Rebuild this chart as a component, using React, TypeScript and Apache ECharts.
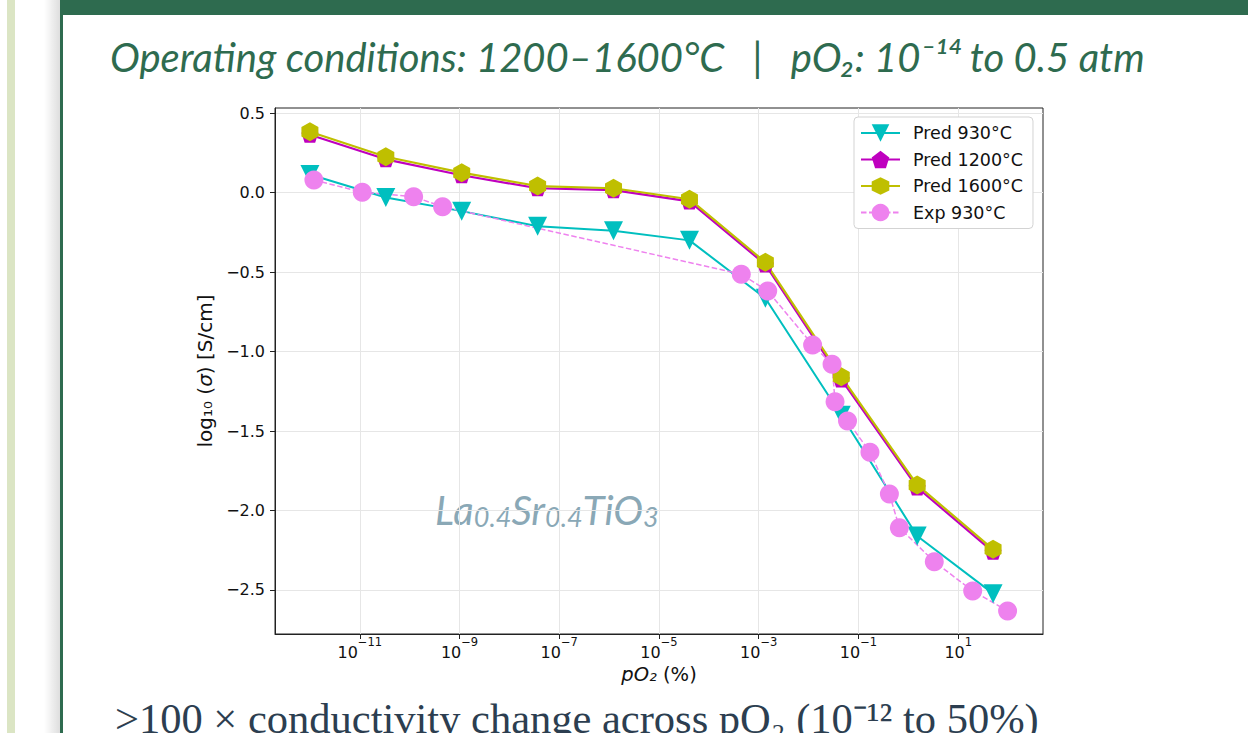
import React, { useEffect, useRef } from 'react';
import * as echarts from 'echarts';

// log10 of pO2 (%) for the predicted series
const predLogPO2 = [-12, -10.478, -8.956, -7.434, -5.912, -4.389, -2.867, -1.345, 0.177, 1.699];
const pred930 = [0.115, -0.03, -0.116, -0.211, -0.239, -0.3, -0.664, -1.4, -2.16, -2.523];
const pred1200 = [0.365, 0.21, 0.11, 0.028, 0.016, -0.055, -0.452, -1.175, -1.855, -2.26];
const pred1600 = [0.384, 0.226, 0.126, 0.042, 0.028, -0.041, -0.438, -1.158, -1.839, -2.244];
// log10 of pO2 (%) for the experimental series
const expLogPO2 = [-11.92, -10.95, -9.92, -9.34, -3.35, -2.82, -1.92, -1.53, -1.47, -1.22, -0.77, -0.38, -0.18, 0.52, 1.29, 1.99];
const exp930 = [0.08, 0.003, -0.025, -0.088, -0.513, -0.618, -0.958, -1.08, -1.315, -1.436, -1.633, -1.896, -2.108, -2.322, -2.506, -2.632];

const xTickExponents = [-11, -9, -7, -5, -3, -1, 1];
const yTicks = [-2.5, -2, -1.5, -1, -0.5, 0, 0.5];

const seriesNames = ['Pred 930°C', 'Pred 1200°C', 'Pred 1600°C', 'Exp 930°C'];

const TRI_DOWN = 'path://M0,0L2,0L1,2Z';
const PENTAGON = 'path://M0,-1L0.951,-0.309L0.588,0.809L-0.588,0.809L-0.951,-0.309Z';
const HEXAGON = 'path://M0,-1L0.866,-0.5L0.866,0.5L0,1L-0.866,0.5L-0.866,-0.5Z';

const GREEN = '#2e6b4f';
const FIG_FONT = 'DejaVu Sans';
const NB = '\u00a0';

const zip = (xs: number[], ys: number[]) => xs.map((x, i) => [x, ys[i]]);
const minus = (s: string) => s.replace('-', '\u2212');

export default function App() {
  const ref = useRef<HTMLDivElement>(null);

  useEffect(() => {
    if (!ref.current) return;
    const chart = echarts.init(ref.current, undefined, { renderer: 'svg' });

    const option: any = {
      animation: false,
      backgroundColor: '#ffffff',
      textStyle: { fontFamily: FIG_FONT },
      grid: {
        left: 275,
        top: 108,
        width: 768,
        height: 526,
        show: true,
        borderColor: '#222',
        borderWidth: 1,
        backgroundColor: 'transparent',
      },
      legend: {
        orient: 'vertical',
        left: 854,
        top: 117,
        width: 180,
        data: seriesNames,
        itemWidth: 39,
        itemHeight: 22,
        itemGap: 4.5,
        padding: [5, 10, 5, 6],
        backgroundColor: '#fff',
        borderColor: '#d3d3d3',
        borderWidth: 1,
        borderRadius: 4,
        textStyle: {
          fontFamily: FIG_FONT,
          fontSize: 17.5,
          lineHeight: 22,
          color: '#111',
          padding: [0, 0, 0, 8],
        },
      },
      xAxis: {
        type: 'value',
        min: -12.7,
        max: 2.7,
        name: '{i|pO₂} (%)',
        nameLocation: 'middle',
        nameGap: 30,
        nameTextStyle: {
          fontFamily: FIG_FONT,
          fontSize: 19.5,
          color: '#111',
          rich: { i: { fontFamily: FIG_FONT, fontSize: 19.5, fontStyle: 'italic', color: '#111' } },
        },
        axisLine: { show: true, onZero: false, lineStyle: { color: '#222', width: 1 } },
        axisTick: { show: true, length: 5, lineStyle: { color: '#222' }, customValues: xTickExponents },
        axisLabel: {
          customValues: xTickExponents,
          margin: 2,
          color: '#111',
          formatter: (v: number) => `{b|10}{s|${minus(String(v))}}`,
          rich: {
            b: { fontFamily: FIG_FONT, fontSize: 16, color: '#111', lineHeight: 24, verticalAlign: 'bottom' },
            s: { fontFamily: FIG_FONT, fontSize: 11.5, color: '#111', lineHeight: 12, verticalAlign: 'top' },
          },
        },
        splitLine: { show: true, lineStyle: { color: '#e6e6e6', width: 1 } },
      },
      yAxis: {
        type: 'value',
        min: -2.777,
        max: 0.533,
        name: 'log₁₀ ({it|σ}) [S/cm]',
        nameLocation: 'middle',
        nameRotate: 90,
        nameGap: 50,
        nameTextStyle: {
          fontFamily: FIG_FONT,
          fontSize: 20,
          color: '#111',
          rich: { it: { fontFamily: FIG_FONT, fontSize: 20, fontStyle: 'italic', color: '#111' } },
        },
        axisLine: { show: true, onZero: false, lineStyle: { color: '#222', width: 1 } },
        axisTick: { show: true, length: 5, lineStyle: { color: '#222' }, customValues: yTicks },
        axisLabel: {
          customValues: yTicks,
          margin: 10,
          fontFamily: FIG_FONT,
          fontSize: 16,
          color: '#111',
          formatter: (v: number) => minus(v.toFixed(1)),
        },
        splitLine: { show: true, lineStyle: { color: '#e6e6e6', width: 1 } },
      },
      series: [
        {
          name: seriesNames[0],
          type: 'line',
          data: zip(predLogPO2, pred930),
          symbol: TRI_DOWN,
          symbolSize: [19, 19],
          color: '#00bfbf',
          lineStyle: { color: '#00bfbf', width: 2 },
          itemStyle: { color: '#00bfbf', borderWidth: 0 },
        },
        {
          name: seriesNames[1],
          type: 'line',
          data: zip(predLogPO2, pred1200),
          symbol: PENTAGON,
          symbolSize: [17, 16],
          color: '#bf00bf',
          lineStyle: { color: '#bf00bf', width: 2.2 },
          itemStyle: { color: '#bf00bf', borderWidth: 0 },
        },
        {
          name: seriesNames[2],
          type: 'line',
          data: zip(predLogPO2, pred1600),
          symbol: HEXAGON,
          symbolSize: [17, 19],
          color: '#bfbf00',
          lineStyle: { color: '#bfbf00', width: 2.2 },
          itemStyle: { color: '#bfbf00', borderWidth: 0 },
        },
        {
          name: seriesNames[3],
          type: 'line',
          data: zip(expLogPO2, exp930),
          symbol: 'circle',
          symbolSize: 19,
          color: '#ee82ee',
          lineStyle: { color: '#ee82ee', width: 1.5, type: [5.5, 2.5] },
          itemStyle: { color: '#ee82ee', borderWidth: 0 },
        },
      ],
      graphic: [
        { type: 'rect', z: -10, shape: { x: 7, y: 0, width: 8, height: 733 }, style: { fill: '#dbe5c4' } },
        {
          type: 'rect',
          z: -10,
          shape: { x: 44, y: 0, width: 16, height: 733 },
          style: {
            fill: new echarts.graphic.LinearGradient(0, 0, 1, 0, [
              { offset: 0, color: 'rgba(0,0,0,0)' },
              { offset: 1, color: 'rgba(0,0,0,0.13)' },
            ]),
          },
        },
        { type: 'rect', z: -10, shape: { x: 60, y: 0, width: 3, height: 733 }, style: { fill: GREEN } },
        { type: 'rect', z: -10, shape: { x: 60, y: 0, width: 1188, height: 15 }, style: { fill: GREEN } },
        {
          type: 'text',
          x: 110,
          y: 57,
          style: {
            text: `Operating conditions: 1200–1600°C${NB}${NB}${NB}|${NB}${NB}${NB}pO₂: 10⁻¹⁴ to 0.5 atm`,
            fontFamily: 'Lato',
            fontStyle: 'italic',
            fontSize: 40,
            fill: GREEN,
            align: 'left',
            verticalAlign: 'middle',
          },
        },
        {
          type: 'text',
          x: 435,
          y: 509,
          style: {
            text: '{n|La}{s|0.4}{n|Sr}{s|0.4}{n|TiO}{s|3}',
            fill: '#8aa8b6',
            align: 'left',
            verticalAlign: 'middle',
            rich: {
              n: {
                fontFamily: 'Lato',
                fontStyle: 'italic',
                fontSize: 40,
                lineHeight: 42,
                verticalAlign: 'bottom',
                fill: '#8aa8b6',
              },
              s: {
                fontFamily: 'Lato',
                fontStyle: 'italic',
                fontSize: 27,
                lineHeight: 22,
                verticalAlign: 'bottom',
                fill: '#8aa8b6',
              },
            },
          },
        },
        {
          type: 'text',
          x: 115,
          y: 718,
          style: {
            text: '>100 × conductivity change across pO₂ (10⁻¹² to 50%)',
            fontFamily: 'Liberation Serif',
            fontSize: 42.5,
            fill: '#2c3e50',
            align: 'left',
            verticalAlign: 'middle',
          },
        },
      ],
    };

    chart.setOption(option);
    return () => chart.dispose();
  }, []);

  return (
    <div
      style={{ position: 'fixed', left: 0, top: 0, width: 1248, height: 733, background: '#fff', overflow: 'hidden' }}
    >
      <div ref={ref} style={{ width: 1248, height: 733 }} />
    </div>
  );
}
